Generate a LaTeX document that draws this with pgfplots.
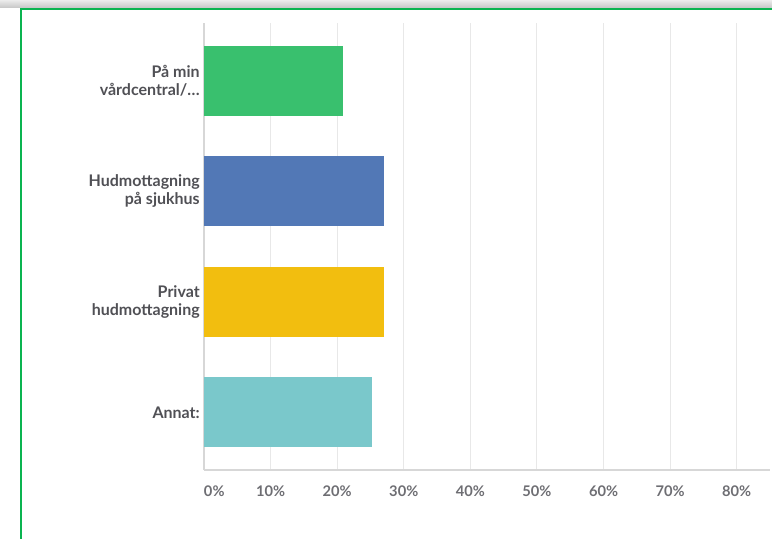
\documentclass[border=0pt]{standalone}
\usepackage{fontspec}
\setmainfont{Lato}
\usepackage{pgfplots}
\pgfplotsset{compat=1.18}

\definecolor{cgreen}{RGB}{57,192,110}
\definecolor{cblue}{RGB}{82,120,182}
\definecolor{cyellow}{RGB}{242,190,15}
\definecolor{cteal}{RGB}{122,200,203}
\definecolor{framegreen}{RGB}{10,180,80}
\definecolor{labelgray}{RGB}{80,80,85}
\definecolor{tickgray}{RGB}{110,110,115}
\definecolor{gridgray}{RGB}{232,232,232}
\definecolor{axisgray}{RGB}{215,215,215}

\begin{document}
\begin{tikzpicture}[x=0.75pt,y=0.75pt]
\useasboundingbox (0,0) rectangle (772,539);
\clip (0,0) rectangle (772,539);
% shadow of the page edge above the frame
\shade[top color=gray!15, bottom color=gray!45] (0,531) rectangle (772,539);
\draw[framegreen, line width=1.5pt] (21,-20) rectangle (800,530);

\begin{axis}[
    at={(153pt,51.75pt)}, anchor=south west,
    scale only axis,
    width=424.5pt, height=335.25pt,
    xmin=0, xmax=85,
    ymin=-0.52, ymax=3.52,
    xtick={0,10,20,30,40,50,60,70,80},
    xticklabels={\rlap{0\%},10\%,20\%,30\%,40\%,50\%,60\%,70\%,80\%},
    ytick={0,1,2,3},
    yticklabels={{Annat:},{Privat\\hudmottagning},{Hudmottagning\\på sjukhus},{På min\\vårdcentral/\ldots}},
    yticklabel style={align=right, inner sep=0pt, xshift=-3pt,
        font=\bfseries\fontsize{12}{13.5}\selectfont, text=labelgray},
    xticklabel style={yshift=-8pt,
        font=\bfseries\fontsize{11}{12}\selectfont, text=tickgray},
    major tick length=0pt,
    xmajorgrids,
    grid style={gridgray, line width=0.75pt},
    axis x line*=bottom, axis y line*=left,
    axis line style={axisgray, line width=1pt, -},
    xbar, bar width=52.5pt,
]
\addplot[fill=cgreen, draw=none, bar shift=0pt] coordinates {(20.8,3)};
\addplot[fill=cblue, draw=none, bar shift=0pt] coordinates {(27.0,2)};
\addplot[fill=cyellow, draw=none, bar shift=0pt] coordinates {(27.0,1)};
\addplot[fill=cteal, draw=none, bar shift=0pt] coordinates {(25.3,0)};
\end{axis}
\end{tikzpicture}
\end{document}
